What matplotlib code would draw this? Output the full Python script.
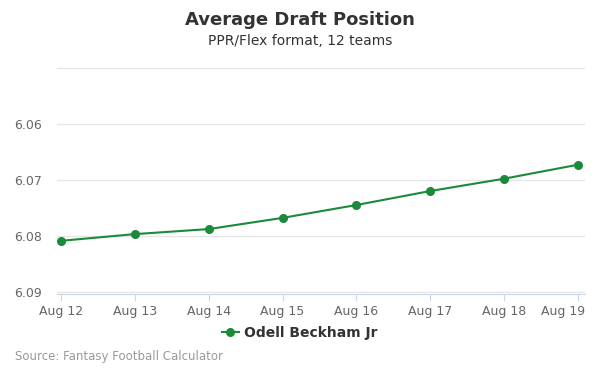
import matplotlib.pyplot as plt
import matplotlib.transforms as mtransforms

# data
dates = ["Aug 12", "Aug 13", "Aug 14", "Aug 15", "Aug 16", "Aug 17", "Aug 18", "Aug 19"]
adp = [6.0809, 6.0797, 6.0788, 6.0768, 6.0745, 6.0720, 6.0698, 6.0673]
y_ticks = [6.05, 6.06, 6.07, 6.08, 6.09]
y_labels = ["", "6.06", "6.07", "6.08", "6.09"]

green = "#1b8a3a"

fig = plt.figure(figsize=(6, 3.75), dpi=100)
ax = fig.add_axes([0.095, 0.216, 0.88, 0.603])

x = list(range(len(dates)))
ax.plot(x, adp, color=green, linewidth=1.5, marker="o", markersize=5.5,
        label="Odell Beckham Jr", zorder=3)

ax.set_xlim(-0.055, 7.095)
ax.set_ylim(6.0904, 6.05)
ax.set_yticks(y_ticks)
ax.set_yticklabels(y_labels)
ax.set_xticks(x)
ax.set_xticklabels(dates)

ax.grid(axis="y", color="#e6e6e6", linewidth=1)
ax.set_axisbelow(True)
for s in ["top", "right", "left"]:
    ax.spines[s].set_visible(False)
ax.spines["bottom"].set_color("#ccd6eb")
ax.tick_params(axis="y", length=0, labelsize=9, labelcolor="#666666", pad=11)
ax.tick_params(axis="x", length=5, color="#ccd6eb", labelsize=9,
               labelcolor="#666666", pad=3)

# keep the last date label inside the figure, as in the original
last = ax.get_xticklabels()[-1]
last.set_transform(last.get_transform() +
                   mtransforms.ScaledTranslation(-15 / 100, 0, fig.dpi_scale_trans))

fig.text(0.5, 0.947, "Average Draft Position", ha="center", va="center",
         fontsize=13, fontweight="bold", color="#333333")
fig.text(0.5, 0.891, "PPR/Flex format, 12 teams", ha="center", va="center",
         fontsize=10, color="#333333")
fig.text(0.025, 0.05, "Source: Fantasy Football Calculator", ha="left", va="center",
         fontsize=8.5, color="#999999")

fig.legend(loc="center", bbox_to_anchor=(0.5, 0.113), frameon=False,
           prop={"weight": "bold", "size": 10}, labelcolor="#333333",
           handlelength=1.2, handletextpad=0.4)

fig.savefig("out.png", dpi=100)
